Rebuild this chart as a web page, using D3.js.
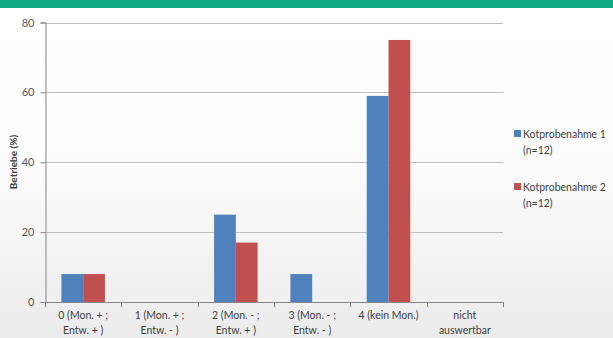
<!DOCTYPE html>
<html><head><meta charset="utf-8">
<script src="https://cdn.jsdelivr.net/npm/d3@7"></script>
<style>body{margin:0;}svg{display:block;}</style>
</head><body>
<svg id="c" width="613" height="338"></svg>
<script>
const categories = [["0 (Mon. + ;","Entw. + )"],["1 (Mon. + ;","Entw. - )"],["2 (Mon. - ;","Entw. + )"],["3 (Mon. - ;","Entw. - )"],["4 (kein Mon.)"],["nicht","auswertbar"]];
const seriesNames = [["Kotprobenahme 1","(n=12)"],["Kotprobenahme 2","(n=12)"]];
const series1 = [8, 0, 25, 8, 59, 0];
const series2 = [8, 0, 17, 0, 75, 0];
const yTicks = [0, 20, 40, 60, 80];
const colors = ["#4f81bd", "#c0504d"];

const svg = d3.select("#c");
const defs = svg.append("defs");
const g = defs.append("linearGradient").attr("id","bg").attr("x1",0).attr("y1",0).attr("x2",0).attr("y2",1);
g.append("stop").attr("offset","0%").attr("stop-color","#ffffff");
g.append("stop").attr("offset","45%").attr("stop-color","#fdfdfd");
g.append("stop").attr("offset","100%").attr("stop-color","#ebebeb");
svg.append("rect").attr("width",613).attr("height",338).attr("fill","url(#bg)");
svg.append("rect").attr("width",613).attr("height",8).attr("fill","#0fa982");

const L = 45, R = 503, T = 22.5, B = 302;
const font = "Lato, 'Open Sans', sans-serif";
const x = d3.scaleBand().domain(d3.range(categories.length)).range([L, R]).paddingInner(0.43).paddingOuter(0.215);
const x0 = d3.scaleBand().domain(d3.range(categories.length)).range([L, R]);
const xs = d3.scaleBand().domain([0,1]).range([0, x.bandwidth()]);
const y = d3.scaleLinear().domain([0, 80]).range([B, T]);

// gridlines
svg.append("g").selectAll("line").data(yTicks.filter(d=>d>0)).join("line")
  .attr("x1", L).attr("x2", R).attr("y1", d=>Math.round(y(d))+0.5).attr("y2", d=>Math.round(y(d))+0.5)
  .attr("stroke", "#c0c0c0").attr("stroke-width", 1);

// bars
const data = [series1, series2];
data.forEach((s, si) => {
  svg.append("g").selectAll("rect").data(s).join("rect")
    .attr("x", (d,i)=>x(i)+xs(si)).attr("width", xs.bandwidth())
    .attr("y", d=>y(d)).attr("height", d=>B - y(d)).attr("fill", colors[si]);
});

// y axis
const ya = d3.axisLeft(y).tickValues(yTicks).tickSize(5).tickPadding(6);
const yg = svg.append("g").attr("transform", `translate(${L+0.5},0)`).call(ya);
yg.select(".domain").attr("stroke", "#868686");
yg.selectAll(".tick line").attr("stroke", "#868686");
yg.selectAll(".tick text").attr("font-family", font).attr("font-size", 11).attr("fill", "#595959");

// x axis
const xa = svg.append("g");
xa.append("line").attr("x1", L).attr("x2", R).attr("y1", B+0.5).attr("y2", B+0.5).attr("stroke", "#868686");
const bounds = d3.range(categories.length+1).map(i => i<categories.length ? x0(i) : R);
xa.selectAll("line.t").data(bounds).join("line").attr("class","t")
  .attr("x1", d=>Math.round(d)+0.5).attr("x2", d=>Math.round(d)+0.5).attr("y1", B).attr("y2", B+5).attr("stroke", "#868686");
categories.forEach((c, i) => {
  const t = xa.append("text").attr("x", x0(i)+x0.bandwidth()/2).attr("y", 319)
    .attr("text-anchor","middle").attr("font-family", font).attr("font-size", 10.5).attr("fill", "#404040");
  c.forEach((line, k) => t.append("tspan").attr("x", x0(i)+x0.bandwidth()/2).attr("dy", k===0?0:15).text(line));
});

// y label
svg.append("text").attr("transform", "translate(17,162) rotate(-90)").attr("text-anchor","middle")
  .attr("font-family", font).attr("font-size", 10).attr("font-weight","bold").attr("fill","#404040").text("Betriebe (%)");

// legend
seriesNames.forEach((n, i) => {
  const ly = 130 + i*53;
  svg.append("rect").attr("x", 514).attr("y", ly).attr("width", 7).attr("height", 7).attr("fill", colors[i]);
  const t = svg.append("text").attr("x", 523).attr("y", ly+7.5).attr("font-family", font).attr("font-size", 10.5).attr("fill", "#404040");
  n.forEach((line, k) => t.append("tspan").attr("x", 523).attr("dy", k===0?0:16).text(line));
});
</script>
</body></html>
